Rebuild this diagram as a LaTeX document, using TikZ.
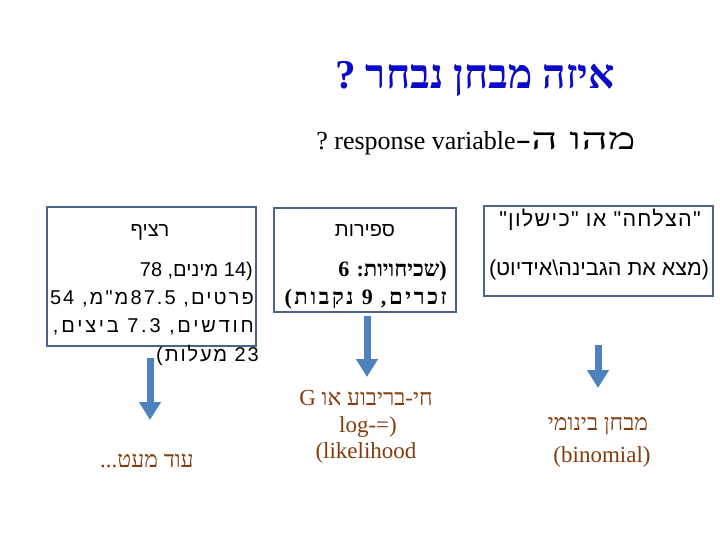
\documentclass[tikz,border=0pt]{standalone}
\usepackage{fontspec}
\setmainfont{Liberation Serif}
\newfontfamily\hsans[Script=Hebrew]{Liberation Sans}
\newfontfamily\hserif[Script=Hebrew]{Liberation Serif}
\newfontfamily\hwide[Script=Hebrew, FakeStretch=1.55]{Liberation Serif}
\TeXXeTstate=1
\usetikzlibrary{arrows.meta}
\definecolor{titleblue}{RGB}{10,10,200}
\definecolor{boxcol}{RGB}{74,100,135}
\definecolor{arrowblue}{RGB}{79,129,189}
\definecolor{brown}{RGB}{132,60,12}
\tikzset{
  framebox/.style={draw=boxcol, line width=2.5pt, rectangle, inner sep=0pt},
  boxtxt/.style={inner sep=0pt, font=\hsans\fontsize{20}{22}\selectfont},
  midtxt/.style={inner sep=0pt, font=\hserif\bfseries\fontsize{22}{24}\selectfont},
  rtxt/.style={inner sep=0pt, font=\hsans\fontsize{21.5}{24}\selectfont},
  restxt/.style={inner sep=0pt, text=brown, font=\hserif\fontsize{23}{26}\selectfont},
  bigarrow/.style={draw=arrowblue, line width=7pt, -{Triangle[width=21pt,length=18pt]}}
}
\begin{document}
\begin{tikzpicture}[x=1pt,y=-1pt]
\useasboundingbox (0,0) rectangle (720,540);
% title
\node[inner sep=0pt, text=titleblue, font=\hserif\bfseries\fontsize{41}{46}\selectfont] (title) at (475,79) {\beginR איזה מבחן נבחר ?\endR};
\node[inner sep=0pt, font=\hserif\fontsize{26}{30}\selectfont] (sub) at (476,143) {\beginR{\hwide\fontsize{30}{34}\selectfont מהו ה-}\beginL response variable\endL{} ?\endR};
% boxes
\node[framebox, minimum width=209pt, minimum height=139pt] (boxL) at (151.5,276.5) {};
\node[framebox, minimum width=182pt, minimum height=104pt] (boxM) at (365,260) {};
\node[framebox, minimum width=229pt, minimum height=90pt] (boxR) at (598.5,251) {};
% left box text
\node[boxtxt] (hL) at (150,232) {\beginR רציף\endR};
\node[boxtxt, anchor=east] (l1) at (253,271) {\beginR (14 מינים, 78\endR};
\node[boxtxt, anchor=east] (l2) at (254,299) {\addfontfeature{LetterSpace=10.5}\beginR פרטים, 87.5מ"מ, 54\endR};
\node[boxtxt, anchor=east] (l3) at (254,327) {\addfontfeature{LetterSpace=14}\beginR חודשים, 7.3 ביצים,\endR};
\node[boxtxt, anchor=east] (l4) at (259,355) {\addfontfeature{LetterSpace=9.5}\beginR 23 מעלות)\endR};
% middle box text
\node[boxtxt] (hM) at (365,231) {\beginR ספירות\endR};
\node[midtxt, anchor=east] (m1) at (447,271) {\beginR (שכיחויות: 6\endR};
\node[midtxt, anchor=east] (m2) at (447,299) {\addfontfeature{LetterSpace=12}\beginR זכרים, 9 נקבות)\endR};
% right box text
\node[rtxt] (hR) at (600,220) {\addfontfeature{LetterSpace=6}\beginR "הצלחה" או "כישלון"\endR};
\node[rtxt] (r1) at (599,270) {\beginR (מצא את הגבינה\textbackslash אידיוט)\endR};
% results
\node[restxt] (resL) at (147,461) {\beginR עוד מעט...\endR};
\node[restxt] (resM1) at (366,398) {\beginR חי-בריבוע או G\endR};
\node[restxt] (resM2) at (368,427) {log-=)};
\node[restxt] (resM3) at (366,453) {(likelihood};
\node[restxt] (resR1) at (598,426) {\beginR מבחן בינומי\endR};
\node[restxt] (resR2) at (602,457) {(binomial)};
% arrows
\coordinate (aLs) at (150,358);
\coordinate (aLe) at (150,420);
\coordinate (aMs) at (367,316);
\coordinate (aMe) at (367,377);
\coordinate (aRs) at (598,345);
\coordinate (aRe) at (598,388);
\draw[bigarrow] (aLs) -- (aLe);
\draw[bigarrow] (aMs) -- (aMe);
\draw[bigarrow] (aRs) -- (aRe);
\end{tikzpicture}
\end{document}
